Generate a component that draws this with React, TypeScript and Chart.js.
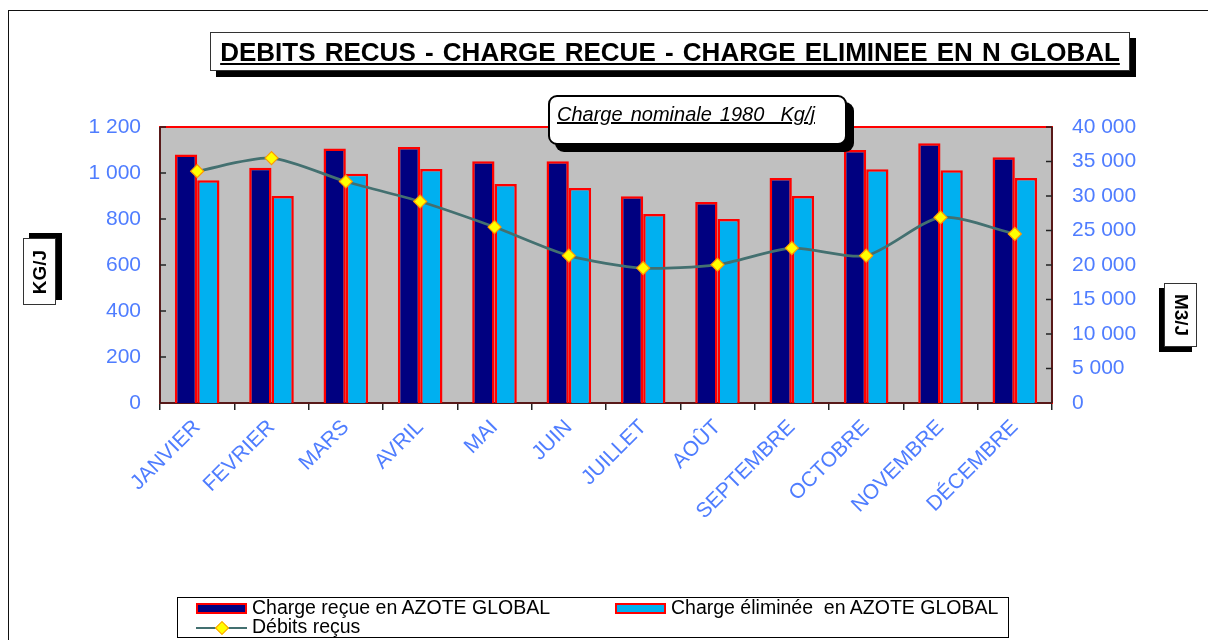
import React, { useEffect, useRef } from 'react';
import { Chart, registerables } from 'chart.js';

Chart.register(...registerables);

// ---------- data ----------
const months = ['JANVIER', 'FEVRIER', 'MARS', 'AVRIL', 'MAI', 'JUIN', 'JUILLET', 'AOÛT', 'SEPTEMBRE', 'OCTOBRE', 'NOVEMBRE', 'DÉCEMBRE'];
const chargeRecue = [1080, 1023, 1106, 1113, 1051, 1051, 899, 874, 978, 1100, 1129, 1068];
const chargeEliminee = [968, 900, 997, 1017, 952, 935, 822, 800, 900, 1016, 1012, 978];
const debitsRecus = [33600, 35500, 32100, 29200, 25500, 21350, 19550, 20050, 22450, 21350, 26900, 24500];
const leftTicks = [0, 200, 400, 600, 800, 1000, 1200];
const rightTicks = [0, 5000, 10000, 15000, 20000, 25000, 30000, 35000, 40000];
const seriesNames = ['Charge reçue en AZOTE GLOBAL', 'Charge éliminée  en AZOTE GLOBAL', 'Débits reçus'];
const titleText = 'DEBITS RECUS - CHARGE RECUE - CHARGE ELIMINEE EN N GLOBAL';
const noteText = 'Charge nominale 1980  Kg/j';
const leftTitle = 'KG/J';
const rightTitle = 'M3/J';

// ---------- styles ----------
const FONT = '"Liberation Sans", Arial, Helvetica, sans-serif';
const TICK_BLUE = '#4F7DFF';
const DARK = '#000080';
const LIGHT = '#00B0F0';
const RED = '#FF0000';
const LINE = '#437070';

const fmt = (v: number) => String(v).replace(/\B(?=(\d{3})+(?!\d))/g, ' ');

const framePlugin = {
  id: 'frame',
  beforeDraw(chart: any) {
    const { ctx, chartArea: a } = chart;
    ctx.save();
    ctx.fillStyle = '#C0C0C0';
    ctx.fillRect(a.left, a.top, a.right - a.left, a.bottom - a.top);
    ctx.restore();
  },
  beforeDatasetsDraw(chart: any) {
    const { ctx, chartArea: a, scales } = chart;
    ctx.save();
    ctx.strokeStyle = RED;
    ctx.lineWidth = 2;
    ctx.strokeRect(a.left, a.top, a.right - a.left, a.bottom - a.top);
    ctx.strokeStyle = '#222';
    ctx.lineWidth = 1.5;
    ctx.beginPath();
    ctx.moveTo(a.left, a.top);
    ctx.lineTo(a.left, a.bottom);
    ctx.lineTo(a.right, a.bottom);
    ctx.moveTo(a.right, a.top);
    ctx.lineTo(a.right, a.bottom);
    // inside tick marks
    leftTicks.forEach((v) => {
      const y = scales.y.getPixelForValue(v);
      ctx.moveTo(a.left, y);
      ctx.lineTo(a.left + 6, y);
    });
    rightTicks.forEach((v) => {
      const y = scales.y1.getPixelForValue(v);
      ctx.moveTo(a.right, y);
      ctx.lineTo(a.right - 6, y);
    });
    ctx.stroke();
    ctx.restore();
  },
};

export default function App() {
  const ref = useRef<HTMLCanvasElement>(null);

  useEffect(() => {
    document.body.style.margin = '0';
    const chart = new Chart(ref.current as HTMLCanvasElement, {
      type: 'bar',
      data: {
        labels: months,
        datasets: [
          {
            type: 'bar',
            label: seriesNames[0],
            data: chargeRecue,
            backgroundColor: DARK,
            borderColor: RED,
            borderWidth: 2.5,
            yAxisID: 'y',
            order: 2,
            categoryPercentage: 0.6,
            barPercentage: 1,
          },
          {
            type: 'bar',
            label: seriesNames[1],
            data: chargeEliminee,
            backgroundColor: LIGHT,
            borderColor: RED,
            borderWidth: 2.5,
            yAxisID: 'y',
            order: 2,
            categoryPercentage: 0.6,
            barPercentage: 1,
          },
          {
            type: 'line',
            label: seriesNames[2],
            data: debitsRecus,
            yAxisID: 'y1',
            borderColor: LINE,
            borderWidth: 2.8,
            tension: 0.25,
            pointStyle: 'rectRot',
            pointRadius: 6.5,
            pointBackgroundColor: '#FFFF00',
            pointBorderColor: '#FF9900',
            pointBorderWidth: 1.2,
            order: 1,
          } as any,
        ],
      },
      options: {
        animation: false,
        responsive: false,
        devicePixelRatio: 1,
        layout: { padding: { left: 10, right: 10, top: 127, bottom: 10 } },
        plugins: { legend: { display: false }, tooltip: { enabled: false }, title: { display: false } },
        scales: {
          x: {
            offset: true,
            grid: { offset: true, drawOnChartArea: false, drawTicks: true, tickLength: 7, color: '#222', lineWidth: 1.5 },
            border: { display: false },
            ticks: {
              autoSkip: false,
              maxRotation: 45,
              minRotation: 45,
              padding: 5,
              color: TICK_BLUE,
              font: { family: FONT, size: 21 },
            },
            afterFit: (s: any) => { s.height = 227; },
          },
          y: {
            position: 'left',
            min: 0,
            max: 1200,
            grid: { display: false, drawTicks: false },
            border: { display: false },
            afterBuildTicks: (s: any) => { s.ticks = leftTicks.map((v) => ({ value: v })); },
            ticks: {
              padding: 19,
              color: TICK_BLUE,
              font: { family: FONT, size: 21 },
              callback: (v: any) => fmt(Number(v)),
            },
            afterFit: (s: any) => { s.width = 150; },
          },
          y1: {
            position: 'right',
            min: 0,
            max: 40000,
            grid: { display: false, drawTicks: false },
            border: { display: false },
            afterBuildTicks: (s: any) => { s.ticks = rightTicks.map((v) => ({ value: v })); },
            ticks: {
              padding: 20,
              color: TICK_BLUE,
              font: { family: FONT, size: 21 },
              callback: (v: any) => fmt(Number(v)),
            },
            afterFit: (s: any) => { s.width = 146; },
          },
        },
      },
      plugins: [framePlugin],
    } as any);
    return () => chart.destroy();
  }, []);

  const legendSwatch = (i: number) => {
    if (i < 2) {
      return (
        <span style={{ display: 'inline-block', width: 47, height: 7, background: i === 0 ? DARK : LIGHT, border: `2px solid ${RED}`, marginRight: 5, verticalAlign: 'middle' }} />
      );
    }
    return (
      <span style={{ position: 'relative', display: 'inline-block', width: 51, height: 12, marginRight: 5, verticalAlign: 'middle' }}>
        <span style={{ position: 'absolute', left: 0, right: 0, top: 5, height: 2.5, background: LINE }} />
        <span style={{ position: 'absolute', left: 21, top: 1, width: 8, height: 8, background: '#FFFF00', border: '1px solid #FF9900', transform: 'rotate(45deg)' }} />
      </span>
    );
  };

  return (
    <div style={{ position: 'fixed', left: 0, top: 0, width: 1208, height: 640, overflow: 'hidden', background: '#fff', fontFamily: FONT }}>
      <div style={{ position: 'absolute', left: 8, top: 10, width: 1300, height: 700, borderLeft: '1.5px solid #111', borderTop: '1.5px solid #111' }} />
      <canvas ref={ref} width={1208} height={640} style={{ position: 'absolute', left: 0, top: 0, width: 1208, height: 640 }} />

      {/* title */}
      <div style={{ position: 'absolute', left: 210, top: 32, width: 918, height: 37, border: '1px solid #333', background: '#fff', boxShadow: '6px 6px 0 #000', textAlign: 'center', lineHeight: '38px', fontWeight: 'bold', fontSize: 26, wordSpacing: 2, textDecoration: 'underline', color: '#000', whiteSpace: 'nowrap' }}>
        {titleText}
      </div>

      {/* note box */}
      <div style={{ position: 'absolute', left: 548, top: 95, width: 295, height: 46, border: '2px solid #000', borderRadius: 9, background: '#fff', boxShadow: '7px 7px 0 #000' }}>
        <div style={{ position: 'absolute', left: 7, top: 5, fontStyle: 'italic', fontSize: 20, lineHeight: '24px', textDecoration: 'underline', wordSpacing: 2.5, whiteSpace: 'pre', color: '#000' }}>
          {noteText}
        </div>
      </div>

      {/* left axis title */}
      <div style={{ position: 'absolute', left: 23, top: 238, width: 31, height: 65, border: '1px solid #333', background: '#fff', boxShadow: '6px -5px 0 #000' }}>
        <div style={{ position: 'absolute', left: '50%', top: '50%', transform: 'translate(-50%, -50%) rotate(-90deg)', fontWeight: 'bold', fontSize: 19, whiteSpace: 'nowrap', color: '#000' }}>
          {leftTitle}
        </div>
      </div>

      {/* right axis title */}
      <div style={{ position: 'absolute', left: 1164, top: 283, width: 31, height: 62, border: '1px solid #333', background: '#fff', boxShadow: '-5px 5px 0 #000' }}>
        <div style={{ position: 'absolute', left: '50%', top: '50%', transform: 'translate(-50%, -50%) rotate(90deg)', fontWeight: 'bold', fontSize: 19, whiteSpace: 'nowrap', color: '#000' }}>
          {rightTitle}
        </div>
      </div>

      {/* legend */}
      <div style={{ position: 'absolute', left: 177, top: 597, width: 830, height: 39, border: '1px solid #000', background: '#fff', fontSize: 19.5, lineHeight: '19px', color: '#000' }}>
        <div style={{ position: 'absolute', left: 18, top: 0, whiteSpace: 'pre' }}>{legendSwatch(0)}{seriesNames[0]}</div>
        <div style={{ position: 'absolute', left: 437, top: 0, whiteSpace: 'pre' }}>{legendSwatch(1)}{seriesNames[1]}</div>
        <div style={{ position: 'absolute', left: 18, top: 19, whiteSpace: 'pre' }}>{legendSwatch(2)}{seriesNames[2]}</div>
      </div>
    </div>
  );
}
